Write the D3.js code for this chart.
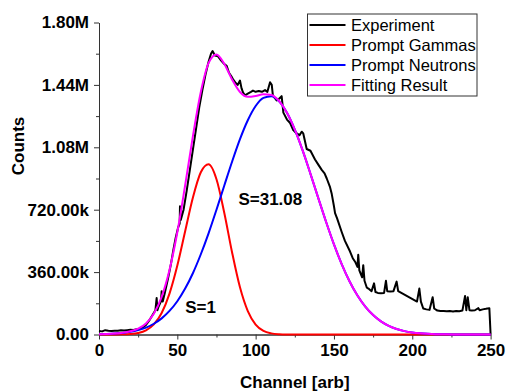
<!DOCTYPE html>
<html>
<head>
<meta charset="utf-8">
<script src="https://cdn.jsdelivr.net/npm/d3@7/dist/d3.min.js"></script>
<style>
  html, body { margin: 0; padding: 0; background: #fff; }
  svg { display: block; font-family: "Liberation Sans", Arial, sans-serif; }
</style>
</head>
<body>
<svg id="chart" width="507" height="392"></svg>
<script>
// ---------- data (counts in millions) ----------
const modelChannels = [0,5,10,15,20,25,30,35,40,45,50,55,60,65,70,75,80,85,90,95,100,105,110,115,120,125,130,135,140,145,150,155,160,165,170,175,180,185,190,195,200,205,210,215,220,225,230,235,240,245,250];
const gammaCounts = [0,0,0.0002,0.0008,0.0029,0.0089,0.024,0.058,0.124,0.236,0.398,0.596,0.792,0.936,0.982,0.896,0.701,0.472,0.272,0.135,0.0575,0.021,0.0066,0.0018,0.0004,0.0001,0,0,0,0,0,0,0,0,0,0,0,0,0,0,0,0,0,0,0,0,0,0,0,0,0];
const neutronCounts = [0.0016,0.003,0.0053,0.0092,0.0154,0.0252,0.040,0.062,0.093,0.136,0.192,0.265,0.355,0.463,0.585,0.720,0.860,0.998,1.127,1.236,1.318,1.365,1.375,1.345,1.279,1.182,1.062,0.927,0.787,0.649,0.520,0.405,0.306,0.225,0.161,0.112,0.0755,0.0496,0.0316,0.0196,0.0118,0.0069,0.0039,0.0021,0.0011,0.0006,0.0003,0.0001,0.0001,0,0];
const fitCounts = [0.0016,0.003,0.0055,0.010,0.0183,0.0341,0.064,0.120,0.217,0.372,0.590,0.861,1.147,1.399,1.567,1.616,1.561,1.470,1.399,1.371,1.376,1.386,1.382,1.347,1.279,1.182,1.062,0.927,0.787,0.649,0.520,0.405,0.306,0.225,0.161,0.112,0.0755,0.0496,0.0316,0.0196,0.0118,0.0069,0.0039,0.0021,0.0011,0.0006,0.0003,0.0001,0.0001,0,0];

const expChannels = [0,2,4,6,8,10,12,14,16,18,20,22,24,26,28,30,32,34,36,36.8,37.3,38,39.5,40,40.7,42,44,46,47.5,49,50.6,51.5,51.7,52.2,54,56,58,60,62,64,66,68,70,71.5,72.5,74,76,78,80,81.5,83,84.5,85.7,87,88.5,90,91,92,93.2,95,97,98.3,100,102,104,106,107.5,109.2,110.3,111,113.4,115,116.6,117.7,120,122,124,126.2,128,129.4,130.4,132.6,135,137.9,140,142.2,144,145.4,147.5,148.6,150,150.7,152,155,157,160.2,162,163.5,165,165.5,166.2,168,168.7,169.5,171,172,174,175.6,176.5,178,180,182,183.2,184,186,188,190,191,193,195,197,199,201,203,204.5,205.5,207,209,211,213,214,216,218,220,222,224,226,228,230,232,233.7,234.5,235.4,236.5,238,240,242.2,243,245,247,249.2,250];
const expCounts = [0.02,0.018,0.025,0.022,0.02,0.021,0.022,0.024,0.023,0.025,0.027,0.026,0.03,0.034,0.04,0.055,0.08,0.11,0.14,0.21,0.14,0.16,0.19,0.25,0.19,0.24,0.32,0.41,0.49,0.56,0.62,0.64,0.74,0.66,0.72,0.83,0.95,1.07,1.19,1.31,1.41,1.50,1.575,1.62,1.635,1.61,1.605,1.58,1.56,1.55,1.51,1.49,1.47,1.455,1.44,1.465,1.42,1.395,1.38,1.39,1.40,1.407,1.40,1.405,1.40,1.41,1.40,1.455,1.44,1.38,1.35,1.36,1.375,1.28,1.24,1.22,1.18,1.16,1.15,1.17,1.16,1.07,1.06,1.01,0.98,0.95,0.93,0.90,0.85,0.81,0.74,0.70,0.67,0.59,0.54,0.48,0.44,0.42,0.39,0.46,0.37,0.33,0.40,0.31,0.27,0.265,0.25,0.295,0.245,0.24,0.238,0.24,0.31,0.25,0.248,0.25,0.305,0.25,0.24,0.23,0.22,0.21,0.20,0.19,0.265,0.19,0.15,0.145,0.142,0.215,0.15,0.138,0.135,0.136,0.134,0.135,0.133,0.136,0.134,0.138,0.222,0.14,0.215,0.14,0.138,0.14,0.152,0.14,0.145,0.148,0.152,0];

const xTicks = [0,50,100,150,200,250];
const xMinorTicks = [25,75,125,175,225];
const yTicks = [0,0.36,0.72,1.08,1.44,1.80];
const yTickLabels = ["0.00","360.00k","720.00k","1.08M","1.44M","1.80M"];
const yMinorTicks = [0.18,0.54,0.90,1.26,1.62];

const seriesNames = ["Experiment","Prompt Gammas","Prompt Neutrons","Fitting Result"];
const seriesColors = ["#000000","#ff0000","#0000ff","#ff00ff"];
const annotations = [{text:"S=31.08", c:89, v:0.745},{text:"S=1", c:55, v:0.125}];

// ---------- layout ----------
const svg = d3.select("#chart");
const x = d3.scaleLinear().domain([0,250]).range([99,490.6]);
const y = d3.scaleLinear().domain([0,1.8]).range([334.5,22.5]);
const tickFont = "bold 17px 'Liberation Sans', Arial, sans-serif";

function styleAxis(g){
  g.select(".domain").attr("stroke","#333").attr("stroke-width",1);
  g.selectAll(".tick line").attr("stroke","#333").attr("stroke-width",1);
  g.selectAll(".tick text").attr("fill","#000").style("font",tickFont);
}

// minor ticks
svg.append("g").attr("transform","translate(0,334.5)")
  .call(d3.axisBottom(x).tickValues(xMinorTicks).tickSize(3).tickSizeOuter(0).tickFormat(""))
  .call(styleAxis);
svg.append("g").attr("transform","translate(99,0)")
  .call(d3.axisLeft(y).tickValues(yMinorTicks).tickSize(3).tickSizeOuter(0).tickFormat(""))
  .call(styleAxis);
// major axes
const gx = svg.append("g").attr("transform","translate(0,334.5)")
  .call(d3.axisBottom(x).tickValues(xTicks).tickSize(5).tickSizeOuter(0).tickPadding(4).tickFormat(d3.format("d")))
  .call(styleAxis);
const gy = svg.append("g").attr("transform","translate(99,0)")
  .call(d3.axisLeft(y).tickValues(yTicks).tickSize(5).tickSizeOuter(0).tickPadding(5).tickFormat((d,i)=>yTickLabels[i]))
  .call(styleAxis);
gx.selectAll(".tick text").attr("dy","0.71em");

// axis titles
svg.append("text").attr("x",294.8).attr("y",387.5).attr("text-anchor","middle")
  .style("font","bold 17px 'Liberation Sans', Arial, sans-serif").text("Channel [arb]");
svg.append("text").attr("transform","translate(23.5,146) rotate(-90)").attr("text-anchor","middle")
  .style("font","bold 17px 'Liberation Sans', Arial, sans-serif").text("Counts");

// curves
const expData = expChannels.map((c,i)=>[c,expCounts[i]]);
const lineLin = d3.line().x(d=>x(d[0])).y(d=>y(d[1]));
const lineSmooth = d3.line().x(d=>x(d[0])).y(d=>y(d[1])).curve(d3.curveMonotoneX);
const modelSeries = [gammaCounts, neutronCounts, fitCounts];

svg.append("path").datum(expData).attr("d",lineLin)
  .attr("fill","none").attr("stroke",seriesColors[0]).attr("stroke-width",2).attr("stroke-linejoin","round");
modelSeries.forEach((vals,k)=>{
  svg.append("path").datum(modelChannels.map((c,i)=>[c,vals[i]])).attr("d",lineSmooth)
    .attr("fill","none").attr("stroke",seriesColors[k+1]).attr("stroke-width",2).attr("stroke-linejoin","round");
});

// annotations
annotations.forEach(a=>{
  svg.append("text").attr("x",x(a.c)).attr("y",y(a.v))
    .style("font","bold 17px 'Liberation Sans', Arial, sans-serif").text(a.text);
});

// legend
const lg = svg.append("g");
lg.append("rect").attr("x",307.5).attr("y",14).attr("width",169.5).attr("height",82)
  .attr("fill","#fff").attr("stroke","#333").attr("stroke-width",1);
seriesNames.forEach((n,i)=>{
  const ry = 25 + i*20;
  lg.append("line").attr("x1",309.5).attr("x2",345.5).attr("y1",ry).attr("y2",ry)
    .attr("stroke",seriesColors[i]).attr("stroke-width",2);
  lg.append("text").attr("x",351).attr("y",ry+5.9)
    .style("font","16.5px 'Liberation Sans', Arial, sans-serif").attr("fill","#000").text(n);
});
</script>
</body>
</html>
